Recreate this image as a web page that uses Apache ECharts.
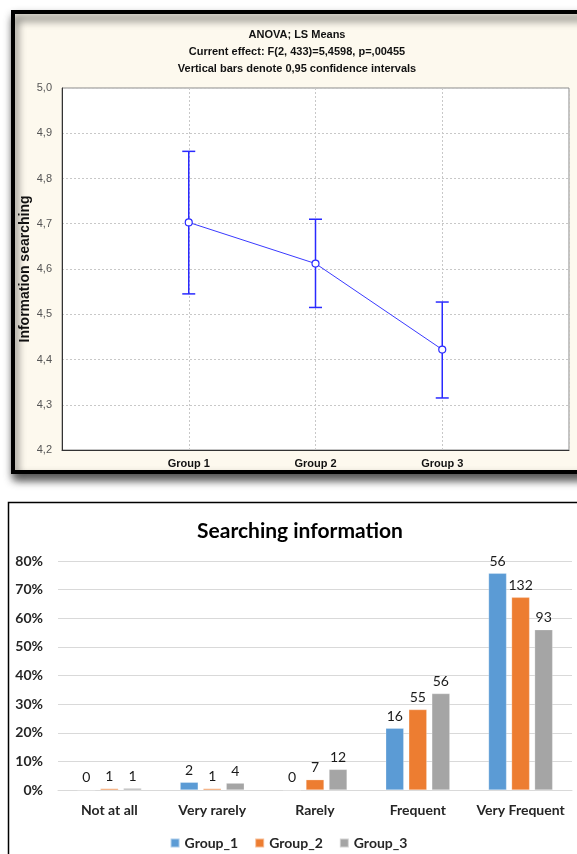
<!DOCTYPE html>
<html>
<head>
<meta charset="utf-8">
<script src="https://cdn.jsdelivr.net/npm/echarts@6/dist/echarts.min.js"></script>
<style>
html,body{margin:0;padding:0;background:#fff;}
#c{width:577px;height:854px;}
</style>
</head>
<body>
<div id="c"></div>
<script>
// ---- Top chart (ANOVA LS Means) ----
const groups = ['Group 1', 'Group 2', 'Group 3'];
const means = [4.703, 4.612, 4.422];
const ciLow = [4.545, 4.515, 4.315];
const ciHigh = [4.860, 4.710, 4.527];
const yTicksTop = [4.2, 5.0, 0.1]; // min, max, step
const yNameTop = 'Information searching';

// ---- Bottom chart (Searching information) ----
const categories = ['Not at all', 'Very rarely', 'Rarely', 'Frequent', 'Very Frequent'];
const group1Pct = [0, 2.7, 0, 21.6, 75.7];
const group2Pct = [0.5, 0.5, 3.6, 28.1, 67.3];
const group3Pct = [0.6, 2.4, 7.2, 33.7, 56.0];
const group1Count = [0, 2, 0, 16, 56];
const group2Count = [1, 1, 7, 55, 132];
const group3Count = [1, 4, 12, 56, 93];
const seriesNames = ['Group_1', 'Group_2', 'Group_3'];

const chart = echarts.init(document.getElementById('c'), null, {renderer: 'canvas'});

const blue = '#2a2aff';
const errData = groups.map((g, i) => [i + 1, ciLow[i], ciHigh[i]]);
const meanData = groups.map((g, i) => [i + 1, means[i]]);
const officeFont = 'Lato, "Open Sans", sans-serif';
const statFont = '"Liberation Sans", Arial, sans-serif';

function barSeries(name, pct, counts, color) {
  return {
    name: name, type: 'bar', xAxisIndex: 1, yAxisIndex: 1,
    data: pct,
    barWidth: 18, barGap: '28%',
    itemStyle: {color: color, borderColor: 'rgba(255,255,255,0.5)', borderWidth: 0.5},
    label: {
      show: true, position: 'top', distance: 5,
      color: '#1a1a1a', fontSize: 14, fontFamily: officeFont,
      formatter: p => String(counts[p.dataIndex])
    }
  };
}

const option = {
  animation: false,
  backgroundColor: '#fff',
  graphic: [
    {type: 'rect', z: -10, shape: {x: 13, y: 12, width: 620, height: 460},
     style: {fill: '#fdf9ee', stroke: '#000', lineWidth: 4,
             shadowBlur: 9, shadowOffsetX: 2, shadowOffsetY: 6, shadowColor: 'rgba(0,0,0,0.7)'}},
    {type: 'rect', z: -10, shape: {x: 8.5, y: 502.5, width: 620, height: 400},
     style: {fill: '#fff', stroke: '#000', lineWidth: 1.5}},
    {type: 'text', z: 10, x: 25, y: 269, rotation: Math.PI / 2,
     style: {text: yNameTop, fill: '#111', font: 'bold 14px "Liberation Sans", Arial, sans-serif',
             align: 'center', verticalAlign: 'middle'}}
  ],
  title: [
    {
      text: 'ANOVA; LS Means\nCurrent effect: F(2, 433)=5,4598, p=,00455\nVertical bars denote 0,95 confidence intervals',
      left: 297, top: 26, textAlign: 'center', padding: 0,
      textStyle: {fontFamily: statFont, fontSize: 11, fontWeight: 'bold', color: '#111', lineHeight: 17}
    },
    {
      text: 'Searching information',
      left: 300, top: 521, textAlign: 'center', padding: 0,
      textStyle: {fontFamily: officeFont, fontSize: 21, fontWeight: 'bold', color: '#000'}
    }
  ],
  legend: {
    data: seriesNames,
    top: 831, left: 'center',
    itemWidth: 9, itemHeight: 9, itemGap: 16, icon: 'rect',
    textStyle: {fontFamily: officeFont, fontSize: 14, fontWeight: 'bold', color: '#262626'}
  },
  grid: [
    {left: 62, top: 88, right: 8, height: 362, show: true, backgroundColor: '#fff',
     borderColor: '#8a8a8a', borderWidth: 1},
    {left: 58, top: 561, right: 5, height: 229}
  ],
  xAxis: [
    {
      gridIndex: 0, type: 'value', min: 0, max: 4, interval: 1,
      axisLine: {show: true, lineStyle: {color: '#333', width: 1}},
      axisTick: {show: false},
      splitLine: {show: true, lineStyle: {color: '#c8c8c8', type: [2, 2], width: 1}},
      axisLabel: {
        margin: 8, color: '#111', fontSize: 11, fontWeight: 'bold', fontFamily: statFont,
        formatter: v => groups[v - 1] || ''
      }
    },
    {
      gridIndex: 1, type: 'category', data: categories,
      axisLine: {show: true, lineStyle: {color: '#d9d9d9', width: 1}},
      axisTick: {show: false},
      axisLabel: {margin: 13, color: '#262626', fontSize: 14, fontWeight: 'bold',
                  fontFamily: officeFont, interval: 0}
    }
  ],
  yAxis: [
    {
      gridIndex: 0, type: 'value', min: yTicksTop[0], max: yTicksTop[1], interval: yTicksTop[2],
      axisLine: {show: true, lineStyle: {color: '#333', width: 1}},
      axisTick: {show: false},
      splitLine: {show: true, lineStyle: {color: '#c8c8c8', type: [2, 2], width: 1}},
      axisLabel: {margin: 10, color: '#555', fontSize: 11, fontFamily: statFont,
                  formatter: v => v.toFixed(1).replace('.', ',')}
    },
    {
      gridIndex: 1, type: 'value', min: 0, max: 80, interval: 10,
      axisLine: {show: false}, axisTick: {show: false},
      splitLine: {show: true, lineStyle: {color: '#d9d9d9', width: 1}},
      axisLabel: {margin: 15, color: '#262626', fontSize: 14, fontWeight: 'bold',
                  fontFamily: officeFont, formatter: '{value}%'}
    }
  ],
  series: [
    {
      type: 'custom', xAxisIndex: 0, yAxisIndex: 0, data: errData, z: 3,
      renderItem: function (params, api) {
        const x = api.value(0);
        const lo = api.coord([x, api.value(1)]);
        const hi = api.coord([x, api.value(2)]);
        const h = 6.5;
        const st = {stroke: blue, lineWidth: 1.5};
        return {type: 'group', children: [
          {type: 'line', shape: {x1: lo[0], y1: lo[1], x2: hi[0], y2: hi[1]}, style: st},
          {type: 'line', shape: {x1: hi[0] - h, y1: hi[1], x2: hi[0] + h, y2: hi[1]}, style: st},
          {type: 'line', shape: {x1: lo[0] - h, y1: lo[1], x2: lo[0] + h, y2: lo[1]}, style: st}
        ]};
      }
    },
    {
      type: 'line', xAxisIndex: 0, yAxisIndex: 0, data: meanData, z: 4,
      symbol: 'circle', symbolSize: 7,
      lineStyle: {color: '#3a3aff', width: 1},
      itemStyle: {color: '#fff', borderColor: blue, borderWidth: 1.2}
    },
    barSeries(seriesNames[0], group1Pct, group1Count, '#5b9bd5'),
    barSeries(seriesNames[1], group2Pct, group2Count, '#ed7d31'),
    barSeries(seriesNames[2], group3Pct, group3Count, '#a5a5a5')
  ]
};
chart.setOption(option);
</script>
</body>
</html>
